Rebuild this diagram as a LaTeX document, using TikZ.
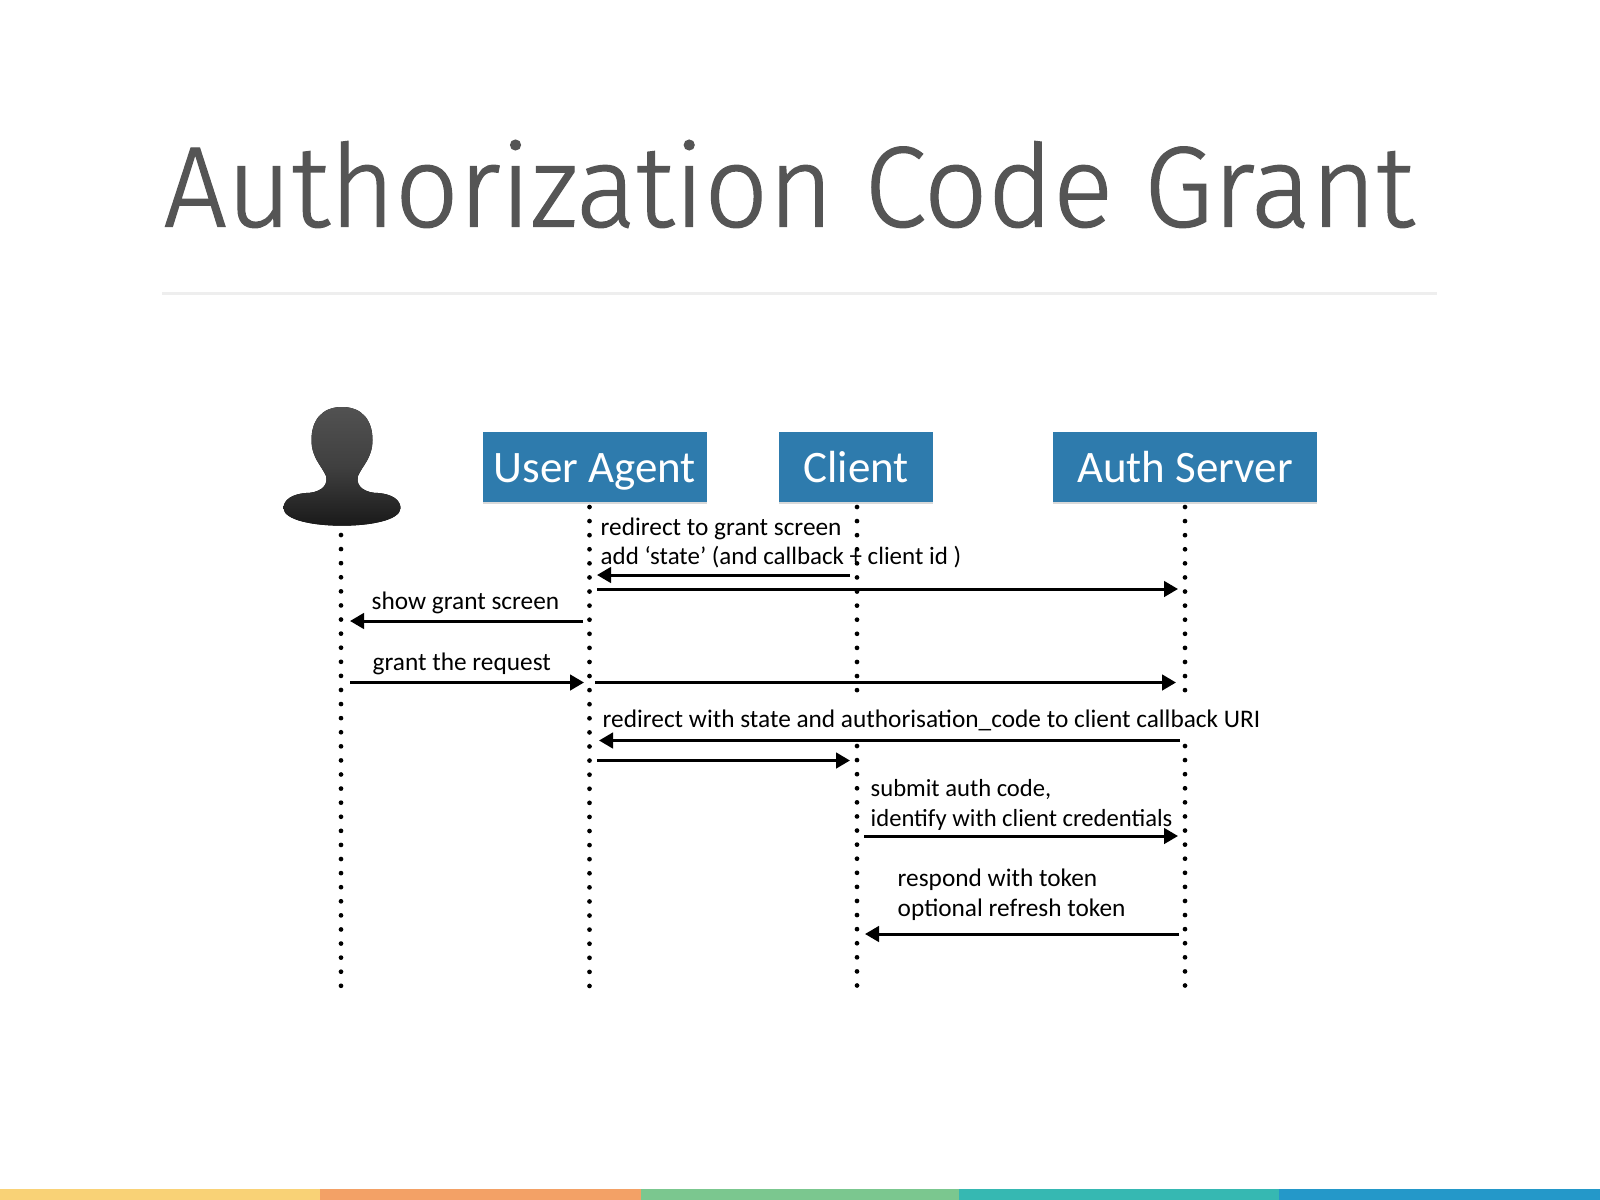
\documentclass[tikz,border=0pt]{standalone}
\usepackage{fontspec}
\usepackage{xcolor}
\usepackage{tikz}
\usetikzlibrary{arrows.meta,positioning,shadows}
\setmainfont{Carlito}
\newfontfamily\titlefont[FakeStretch=.975,FakeBold=1.2]{Fira Sans Light}
\definecolor{oaBlue}{HTML}{2E7BAD}
\definecolor{oaTitle}{HTML}{555555}
\definecolor{oaRule}{HTML}{EEEEEE}
\definecolor{oaYellow}{HTML}{F9D276}
\definecolor{oaOrange}{HTML}{F3A166}
\definecolor{oaGreen}{HTML}{7BC78F}
\definecolor{oaTeal}{HTML}{36B8B2}
\definecolor{oaSky}{HTML}{2498C9}

\begin{document}
\begin{tikzpicture}[
  x=.01cm, y=-.01cm,
  party/.style={draw=none, fill=oaBlue, text=white, minimum height=.70cm, inner sep=0pt,
    text height=.40cm, text depth=.086cm, font=\fontsize{12.8}{14}\selectfont,
    drop shadow={shadow xshift=0pt, shadow yshift=-.5pt, opacity=.3}},
  flow/.style={-{Triangle[length=.14cm,width=.155cm]}, line width=.03cm, draw=black},
  life/.style={line width=.047cm, line cap=round, dash pattern=on 0pt off .1408cm},
  msg/.style={anchor=base west, inner sep=0pt, align=left, font=\fontsize{7.2}{8.4}\selectfont},
  msgtight/.style={msg, font=\fontsize{7}{8.4}\selectfont}
]
  \useasboundingbox (0,0) rectangle (1600,1200);
  % title and rule
  \node[anchor=base west, inner sep=0pt, text=oaTitle, font=\fontsize{32.6}{36}\titlefont] (title) at (163,226.5) {Authorization Code Grant};
  \draw[oaRule, line width=.03cm] (162,293.5) -- (1437,293.5);
  % colour strip
  \foreach \xa/\xb/\col in {0/320/oaYellow,320/641/oaOrange,641/959/oaGreen,959/1279/oaTeal,1279/1600/oaSky}
    \fill[\col] (\xa,1189) rectangle (\xb,1200);
  % user figure
  \fill[top color=black!68, bottom color=black!90, middle color=black!75]
    (342,407) .. controls (362,407) and (372.5,420) .. (372.5,440)
    .. controls (372.5,458) and (362,466) .. (358,476)
    .. controls (355,487) and (366,493) .. (378,493)
    .. controls (392,494) and (400.5,500) .. (400.5,508)
    .. controls (400.5,520) and (371,525.7) .. (342,525.7)
    .. controls (313,525.7) and (283.5,520) .. (283.5,508)
    .. controls (283.5,500) and (292,494) .. (306,493)
    .. controls (318,493) and (329,487) .. (326,476)
    .. controls (322,466) and (311.5,458) .. (311.5,440)
    .. controls (311.5,420) and (322,407) .. (342,407) -- cycle;
  % the parties
  \node[party, minimum width=2.24cm, anchor=north west] (ua) at (482,431) {User Agent};
  \node[party, minimum width=1.54cm, right=.71cm of ua] (client) {Client};
  \node[party, minimum width=2.64cm, right=1.18cm of client] (auth) {Auth Server};
  % lifelines
  \coordinate (userT) at (341,535);
  \coordinate (userB) at (341,986);
  \coordinate (uaT) at (589.5,507);
  \coordinate (uaB) at (589.5,986);
  \coordinate (clientT) at (857,507);
  \coordinate (clientM) at (857,691);
  \coordinate (clientN) at (857,746);
  \coordinate (clientB) at (857,986);
  \coordinate (authT) at (1185,507);
  \coordinate (authM) at (1185,691);
  \coordinate (authN) at (1185,746);
  \coordinate (authB) at (1185,986);
  \foreach \from/\to in {userT/userB,uaT/uaB,clientT/clientM,clientN/clientB,authT/authM,authN/authB}
    \draw[life] (\from) -- (\to);
  % message ends
  \coordinate (aS) at (850,575);   \coordinate (aT) at (597,575);
  \coordinate (bS) at (597,589);   \coordinate (bT) at (1178,589);
  \coordinate (cS) at (583,621);   \coordinate (cT) at (350,621);
  \coordinate (dS) at (350,682.5); \coordinate (dT) at (584,682.5);
  \coordinate (eS) at (595,682.5); \coordinate (eT) at (1176,682.5);
  \coordinate (fS) at (1180,740.5);\coordinate (fT) at (599,740.5);
  \coordinate (gS) at (597,760.5); \coordinate (gT) at (850,760.5);
  \coordinate (hS) at (864,836);   \coordinate (hT) at (1178,836);
  \coordinate (iS) at (1179,934);  \coordinate (iT) at (865,934);
  \foreach \m in {a,b,c,d,e,f,g,h,i}
    \draw[flow] (\m S) -- (\m T);
  % message labels
  \node[msg] (redir) at (600,535) {redirect to grant screen};
  \node[msg, font=\fontsize{7.1}{8.4}\selectfont] (state) at (600,564) {add ‘state’ (and callback + client id )};
  \node[msg] (show) at (371,609) {show grant screen};
  \node[msg] (grant) at (372,670) {grant the request};
  \node[msg] (back) at (602,727) {redirect with state and authorisation\_code to client callback URI};
  \node[msgtight] (submit) at (870,796) {submit auth code,};
  \node[msgtight] (ident) at (870,826) {identify with client credentials};
  \node[msg] (resp) at (897,886.5) {respond with token};
  \node[msg] (opt) at (897,916.5) {optional refresh token};
\end{tikzpicture}
\end{document}
